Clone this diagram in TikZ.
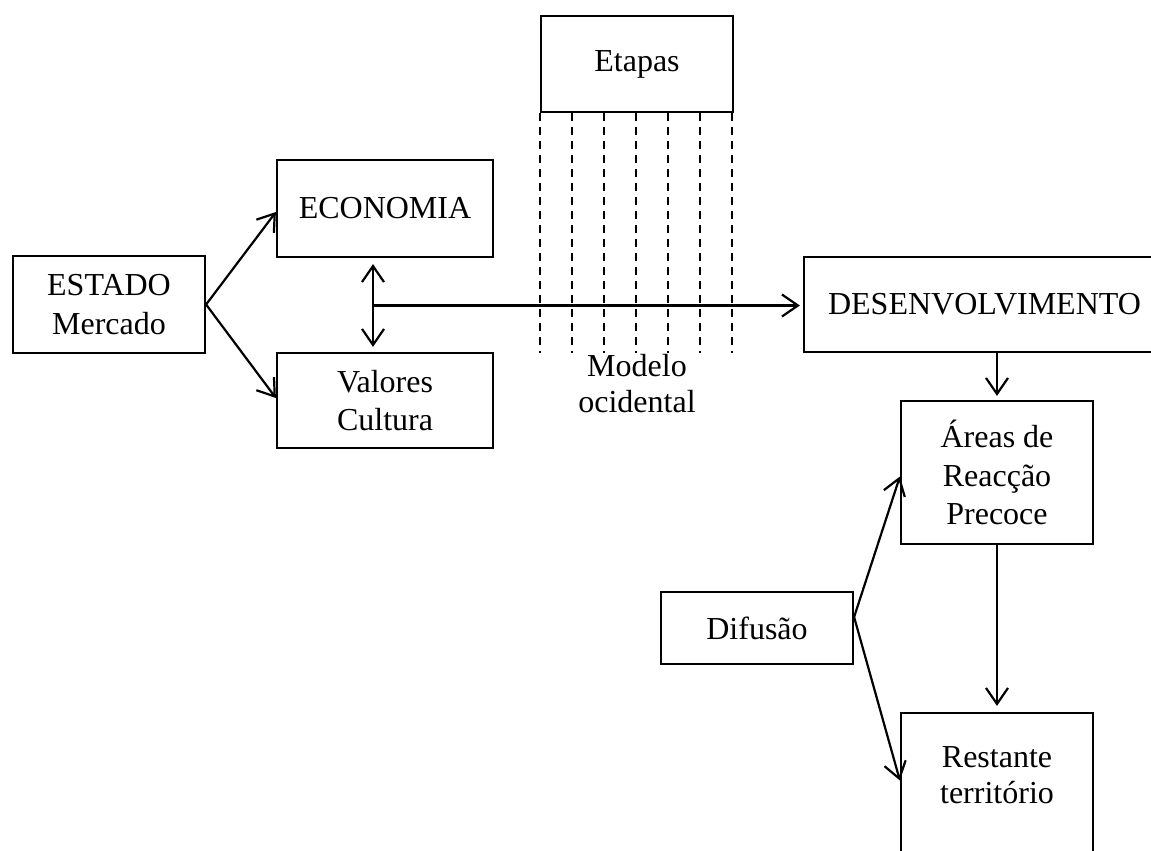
\documentclass[tikz,border=0pt]{standalone}
\usepackage{fontspec}
\setmainfont{Liberation Serif}
\usetikzlibrary{arrows.meta,calc}

\tikzset{
  box/.style={draw, line width=2.2pt, rectangle, inner sep=0pt,
              font=\fontsize{32}{38.5}\selectfont, align=center},
  label text/.style={inner sep=0pt, font=\fontsize{32}{36}\selectfont, align=center},
  barb/.tip={Straight Barb[length=16pt,width=22pt]},
  link/.style={line width=2.2pt, -barb},
  twoway/.style={line width=2.2pt, barb-barb},
  stage/.style={line width=1.8pt, dash pattern=on 8pt off 6pt}
}

\begin{document}
\begin{tikzpicture}[x=1pt,y=-1pt]
  \useasboundingbox (0,0) rectangle (1151,851);
  \clip (0,0) rectangle (1151,851);

  % boxes
  \node[box, minimum width=192pt, minimum height=97pt] (estado) at (109,304.5) {ESTADO\\Mercado};
  \node[box, minimum width=216pt, minimum height=97pt] (eco) at (385,208.5) {ECONOMIA};
  \node[box, minimum width=216pt, minimum height=95pt] (val) at (385,400.5) {Valores\\Cultura};
  \node[box, minimum width=192pt, minimum height=96pt] (etapas) at (637,64) {Etapas};
  \node[box, minimum width=361pt, minimum height=95pt] (desen) at (984.5,304.5) {DESENVOLVIMENTO};
  \node[box, minimum width=192pt, minimum height=143pt] (areas) at (997,472.5) {Áreas de\\Reacção\\Precoce};
  \node[box, minimum width=192pt, minimum height=72pt] (difusao) at (757,628) {Difusão};
  \node[box, minimum width=192pt, minimum height=157pt] (rest) at (997,791.5) {};
  \node[label text] (restT) at (997,775) {Restante\\território};

  % stages hanging below the Etapas box
  \foreach \i in {0,...,6} {
    \coordinate (s\i) at ($(etapas.south west)+(32*\i,0)$);
    \draw[stage] (s\i) -- ++(0,240);
  }
  \node[label text] (modelo) at (637,384) {Modelo\\ocidental};

  % connectors
  \draw[link] (estado.east) -- ($(eco.west)+(0,3.5)$);
  \draw[link] (estado.east) -- ($(val.west)+(0,-2.5)$);
  \draw[twoway] ($(eco.south)+(-12,6)$) coordinate (dtop) -- ($(val.north)+(-12,-5)$) coordinate (dbot);
  \coordinate (mid) at ($(dtop)!0.5!(dbot)$);
  \draw[link, shorten >=3pt] (mid) -- (mid -| desen.west);
  \draw[link, shorten >=4pt] (areas.north |- desen.south) -- (areas.north);
  \draw[link, shorten >=6pt] (areas.south) -- (rest.north);
  \draw[link] ($(difusao.east)+(0,-11)$) -- ($(areas.west)+(0,4)$);
  \draw[link] ($(difusao.east)+(0,-11)$) -- ($(rest.west)+(0,-11)$);
\end{tikzpicture}
\end{document}
